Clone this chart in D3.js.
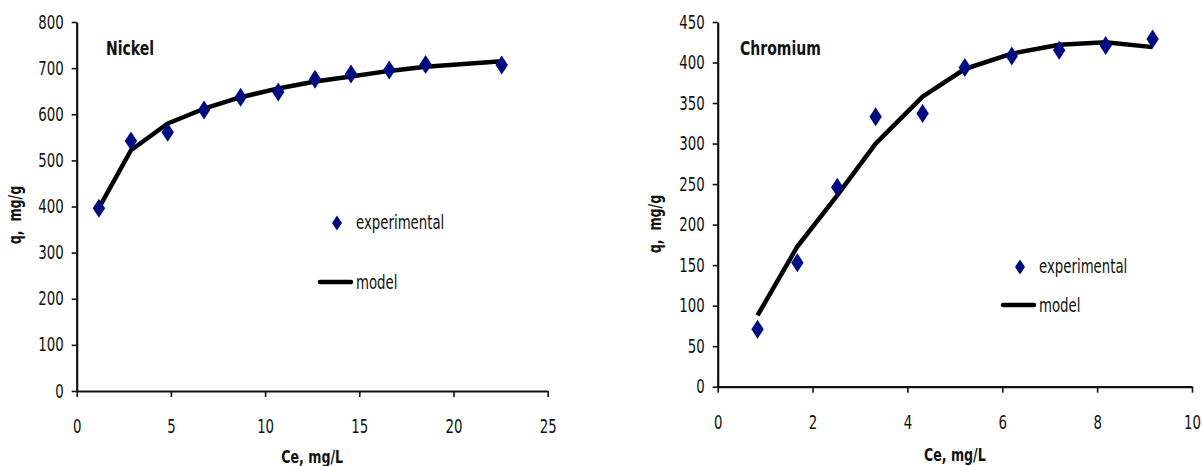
<!DOCTYPE html>
<html>
<head>
<meta charset="utf-8">
<script src="https://cdn.jsdelivr.net/npm/d3@7"></script>
<style>
  body { margin: 0; background: #fff; }
  svg text { font-family: "DejaVu Sans Condensed", "Liberation Sans", sans-serif; white-space: pre; }
</style>
</head>
<body>
<svg id="chart" width="1203" height="466"></svg>
<script>
// Nickel
const niCe    = [1.18, 2.88, 4.83, 6.76, 8.70, 10.70, 12.65, 14.56, 16.59, 18.52, 22.56];
const niExp   = [396, 542, 561, 609, 637, 648, 676, 687, 696, 708, 707];
const niModel = [397, 522, 580, 612, 637, 656, 671, 682, 694, 703, 715];
const niXTicks = [0, 5, 10, 15, 20, 25];
const niYTicks = [0, 100, 200, 300, 400, 500, 600, 700, 800];

// Chromium
const crCe    = [0.84, 1.68, 2.52, 3.33, 4.32, 5.21, 6.20, 7.20, 8.18, 9.17];
const crExp   = [71, 153, 246, 333, 337, 394, 408, 415, 421, 429];
const crModel = [88, 173, 236, 300, 358, 392, 411, 422, 425, 419];
const crXTicks = [0, 2, 4, 6, 8, 10];
const crYTicks = [0, 50, 100, 150, 200, 250, 300, 350, 400, 450];

const svg = d3.select("#chart");
const markColor = "#000c80";
const SQ = 0.78; // horizontal squeeze to mimic the narrow original font

// place text at (x,y), squeezed horizontally
function putText(parent, x, y, str, size, bold, anchor, rot) {
  return parent.append("text")
    .attr("transform", `translate(${x},${y})${rot ? " rotate(-90)" : ""} scale(${SQ},1)`)
    .attr("text-anchor", anchor || "start")
    .attr("font-size", size + "px")
    .attr("font-weight", bold ? "bold" : "normal")
    .attr("fill", "#111")
    .text(str);
}

function drawPanel(o) {
  const x = d3.scaleLinear().domain(o.xDomain).range(o.xRange);
  const y = d3.scaleLinear().domain(o.yDomain).range(o.yRange);
  const g = svg.append("g");

  // axes
  const gx = g.append("g")
    .attr("transform", `translate(0,${o.yRange[0]})`)
    .call(d3.axisBottom(x).tickValues(o.xTicks).tickSize(6).tickSizeOuter(0).tickFormat(d3.format("d")));
  gx.selectAll("text")
    .attr("y", 29)
    .attr("transform", `scale(${SQ},1)`)
    .attr("font-size", "19px").attr("fill", "#111");

  const gy = g.append("g")
    .attr("transform", `translate(${o.xRange[0]},0)`)
    .call(d3.axisLeft(y).tickValues(o.yTicks).tickSize(5).tickSizeOuter(0));
  gy.selectAll("text")
    .attr("x", 0)
    .attr("transform", `translate(-13,0) scale(${SQ},1)`)
    .attr("font-size", "19px").attr("fill", "#111");

  [gx, gy].forEach(a => {
    a.attr("font-family", null);
    a.select(".domain").attr("stroke", "#111").attr("stroke-width", 2.2);
    a.selectAll(".tick line").attr("stroke", "#111").attr("stroke-width", 1.6);
  });

  // model line
  const line = d3.line().x((d, i) => x(o.ce[i])).y(d => y(d));
  g.append("path")
    .datum(o.model)
    .attr("d", line)
    .attr("fill", "none")
    .attr("stroke", "#000")
    .attr("stroke-width", 4.5)
    .attr("stroke-linejoin", "round");

  // experimental points (diamonds)
  const dia = "M0,-9.5L6.2,0L0,9.5L-6.2,0Z";
  g.selectAll(".pt")
    .data(o.exp)
    .enter()
    .append("path")
    .attr("class", "pt")
    .attr("d", dia)
    .attr("fill", markColor)
    .attr("transform", (d, i) => `translate(${x(o.ce[i])},${y(d)})`);

  // titles
  putText(g, (o.xRange[0] + o.xRange[1]) / 2, o.xTitleY, "Ce, mg/L", 18, true, "middle");
  putText(g, o.yTitleX, o.yTitleY, "q,  mg/g", 18, true, "middle", true);
  putText(g, o.name.x, o.name.y, o.name.text, 20, true, "start");

  // legend
  const lg = g.append("g").attr("transform", `translate(${o.legend.x},${o.legend.y})`);
  lg.append("path").attr("d", "M0,-7.5L5,0L0,7.5L-5,0Z").attr("fill", markColor)
    .attr("transform", "translate(-19,0)");
  putText(lg, 0, 6, "experimental", 19, false, "start");
  lg.append("line").attr("x1", -36).attr("x2", -5).attr("y1", o.legend.gap).attr("y2", o.legend.gap)
    .attr("stroke", "#000").attr("stroke-width", 4.5).attr("stroke-linecap", "round");
  putText(lg, 0, o.legend.gap + 7, "model", 19, false, "start");
}

drawPanel({
  ce: niCe, exp: niExp, model: niModel,
  xDomain: [0, 25], yDomain: [0, 800],
  xRange: [76.7, 547.7], yRange: [391, 22],
  xTicks: niXTicks, yTicks: niYTicks,
  xTitleY: 463, yTitleX: 21, yTitleY: 215,
  name: { text: "Nickel", x: 106, y: 55 },
  legend: { x: 356, y: 223, gap: 59 }
});

drawPanel({
  ce: crCe, exp: crExp, model: crModel,
  xDomain: [0, 10], yDomain: [0, 450],
  xRange: [717.7, 1192], yRange: [386.7, 22],
  xTicks: crXTicks, yTicks: crYTicks,
  xTitleY: 461, yTitleX: 661, yTitleY: 224,
  name: { text: "Chromium", x: 740, y: 55 },
  legend: { x: 1039, y: 267, gap: 38 }
});
</script>
</body>
</html>
